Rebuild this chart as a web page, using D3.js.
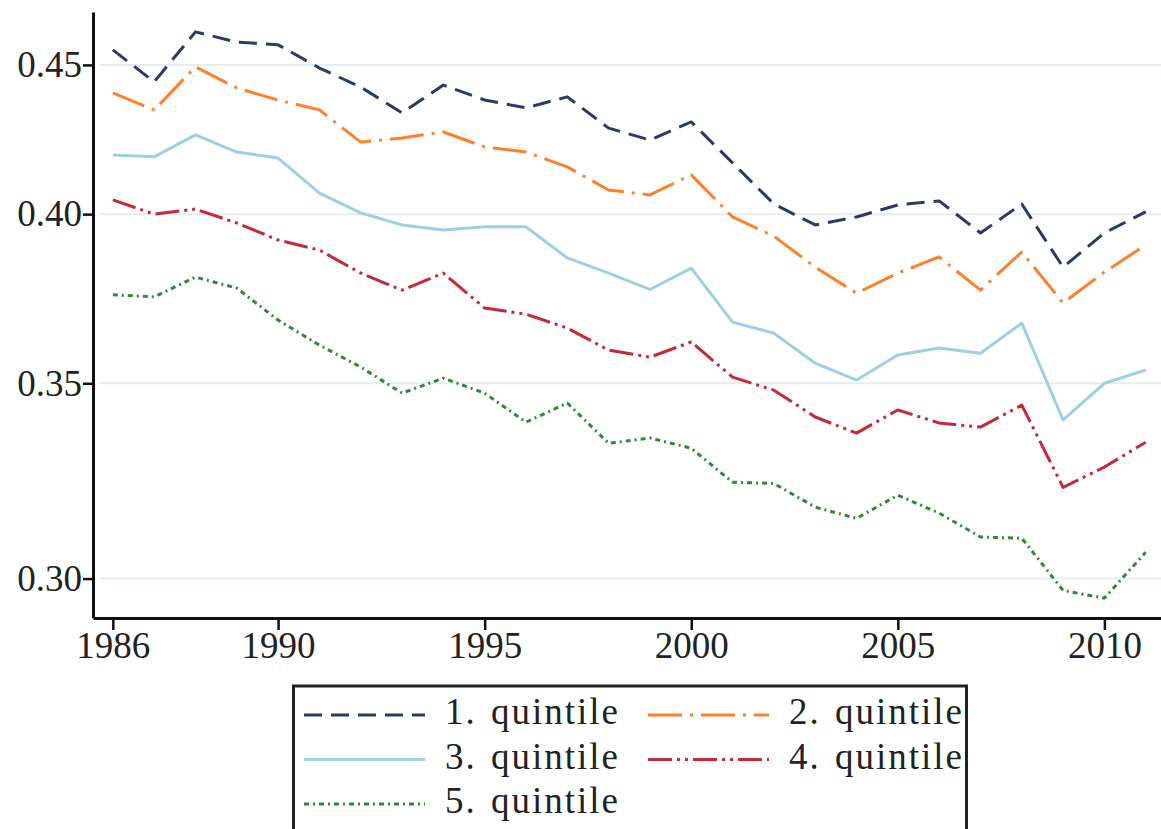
<!DOCTYPE html>
<html>
<head>
<meta charset="utf-8">
<script src="https://cdn.jsdelivr.net/npm/d3@7"></script>
<style>
  html, body { margin: 0; padding: 0; background: #fff; }
  svg { display: block; }
</style>
</head>
<body>
<svg id="chart" width="1161" height="829"></svg>
<script>
// ---- data ----
const years = [1986,1987,1988,1989,1990,1991,1992,1993,1994,1995,1996,1997,1998,
               1999,2000,2001,2002,2003,2004,2005,2006,2007,2008,2009,2010,2011];
const q1 = [0.4554,0.4440,0.4619,0.4582,0.4572,0.4489,0.4422,0.4333,0.4429,0.4377,0.4350,0.4388,0.4281,
            0.4241,0.4302,0.4165,0.4032,0.3966,0.3991,0.4029,0.4042,0.3941,0.4032,0.3836,0.3941,0.4007];
const q2 = [0.4402,0.4343,0.4493,0.4419,0.4377,0.4343,0.4234,0.4248,0.4268,0.4218,0.4201,0.4152,0.4077,
            0.4061,0.4126,0.3991,0.3931,0.3836,0.3758,0.3818,0.3867,0.3767,0.3882,0.3729,0.3821,0.3904];
const q3 = [0.4191,0.4185,0.4258,0.4201,0.4181,0.4067,0.4004,0.3966,0.3950,0.3960,0.3960,0.3864,0.3818,
            0.3769,0.3833,0.3673,0.3641,0.3556,0.3509,0.3579,0.3599,0.3584,0.3670,0.3400,0.3500,0.3537];
const q4 = [0.4045,0.4000,0.4016,0.3972,0.3919,0.3888,0.3818,0.3767,0.3818,0.3714,0.3696,0.3656,0.3593,
            0.3573,0.3616,0.3517,0.3481,0.3408,0.3365,0.3427,0.3392,0.3381,0.3440,0.3224,0.3276,0.3341];
const q5 = [0.3753,0.3747,0.3806,0.3773,0.3679,0.3607,0.3545,0.3473,0.3514,0.3473,0.3394,0.3446,0.3338,
            0.3352,0.3325,0.3237,0.3234,0.3174,0.3146,0.3204,0.3159,0.3100,0.3097,0.2972,0.2954,0.3063];
const seriesNames = ["1. quintile","2. quintile","3. quintile","4. quintile","5. quintile"];
const xTicks = [1986,1990,1995,2000,2005,2010];
const yTicks = [0.30,0.35,0.40,0.45];

// ---- styles ----
const FONT = '"Liberation Serif", "Times New Roman", serif';
const colors = ["#2c3a66","#ff7f2a","#9dd0e2","#c42a3a","#2f8a36"];
const dashes = ["18,9","34,8,3,8","none","24,5,3,5,3,5","5,4,2,4"];

const svg = d3.select("#chart");
const mLeft = 93, mTop = 12, mBottom = 618, mRight = 1161;

const x = d3.scaleLinear().domain([1985.52, 2011.37]).range([mLeft, mRight]);
const y = d3.scaleLog().domain([0.2908, 0.4692]).range([mBottom, mTop]);

// gridlines
svg.append("g").selectAll("line").data(yTicks).join("line")
  .attr("x1", mLeft + 7).attr("x2", mRight)
  .attr("y1", d => y(d)).attr("y2", d => y(d))
  .attr("stroke", "#e2eef2").attr("stroke-width", 2);

// series lines
const allSeries = [q1,q2,q3,q4,q5];
const line = d3.line().x(d => x(d[0])).y(d => y(d[1]));
allSeries.forEach((vals, i) => {
  svg.append("path")
    .datum(years.map((yr, j) => [yr, vals[j]]))
    .attr("fill", "none")
    .attr("stroke", colors[i])
    .attr("stroke-width", 3)
    .attr("stroke-dasharray", dashes[i])
    .attr("stroke-linejoin", "round")
    .attr("d", line);
});

// axes
const xAxis = d3.axisBottom(x).tickValues(xTicks).tickFormat(d3.format("d"))
  .tickSizeOuter(0).tickSizeInner(12).tickPadding(2);
const gx = svg.append("g").attr("transform", `translate(0,${mBottom})`).call(xAxis);
gx.select(".domain").attr("stroke", "#111").attr("stroke-width", 3);
gx.selectAll(".tick line").attr("stroke", "#111").attr("stroke-width", 2.5);
gx.selectAll(".tick text").style("font-family", FONT).style("font-size", "37px").style("fill", "#222");

const yAxis = d3.axisLeft(y).tickValues(yTicks).tickFormat(d3.format(".2f"))
  .tickSizeOuter(0).tickSizeInner(10).tickPadding(1);
const gy = svg.append("g").attr("transform", `translate(${mLeft},0)`).call(yAxis);
gy.select(".domain").attr("stroke", "#111").attr("stroke-width", 3);
gy.selectAll(".tick line").attr("stroke", "#111").attr("stroke-width", 2.5);
gy.selectAll(".tick text").style("font-family", FONT).style("font-size", "37px").style("fill", "#222");

// legend
const lg = svg.append("g");
lg.append("rect")
  .attr("x", 293.5).attr("y", 686).attr("width", 673).attr("height", 170)
  .attr("fill", "#fff").attr("stroke", "#222").attr("stroke-width", 3);
const cols = [304, 648];
const rowY = [715, 759.5, 804];
seriesNames.forEach((name, i) => {
  const cx = cols[i % 2], cy = rowY[Math.floor(i / 2)];
  lg.append("line")
    .attr("x1", cx).attr("x2", cx + 121).attr("y1", cy).attr("y2", cy)
    .attr("stroke", colors[i]).attr("stroke-width", 3)
    .attr("stroke-dasharray", dashes[i]);
  lg.append("text")
    .attr("x", cx + 141).attr("y", cy + 9)
    .style("font-family", FONT).style("font-size", "37px").style("fill", "#222")
    .style("letter-spacing", "2px")
    .style("word-spacing", "3px")
    .text(name);
});
</script>
</body>
</html>
